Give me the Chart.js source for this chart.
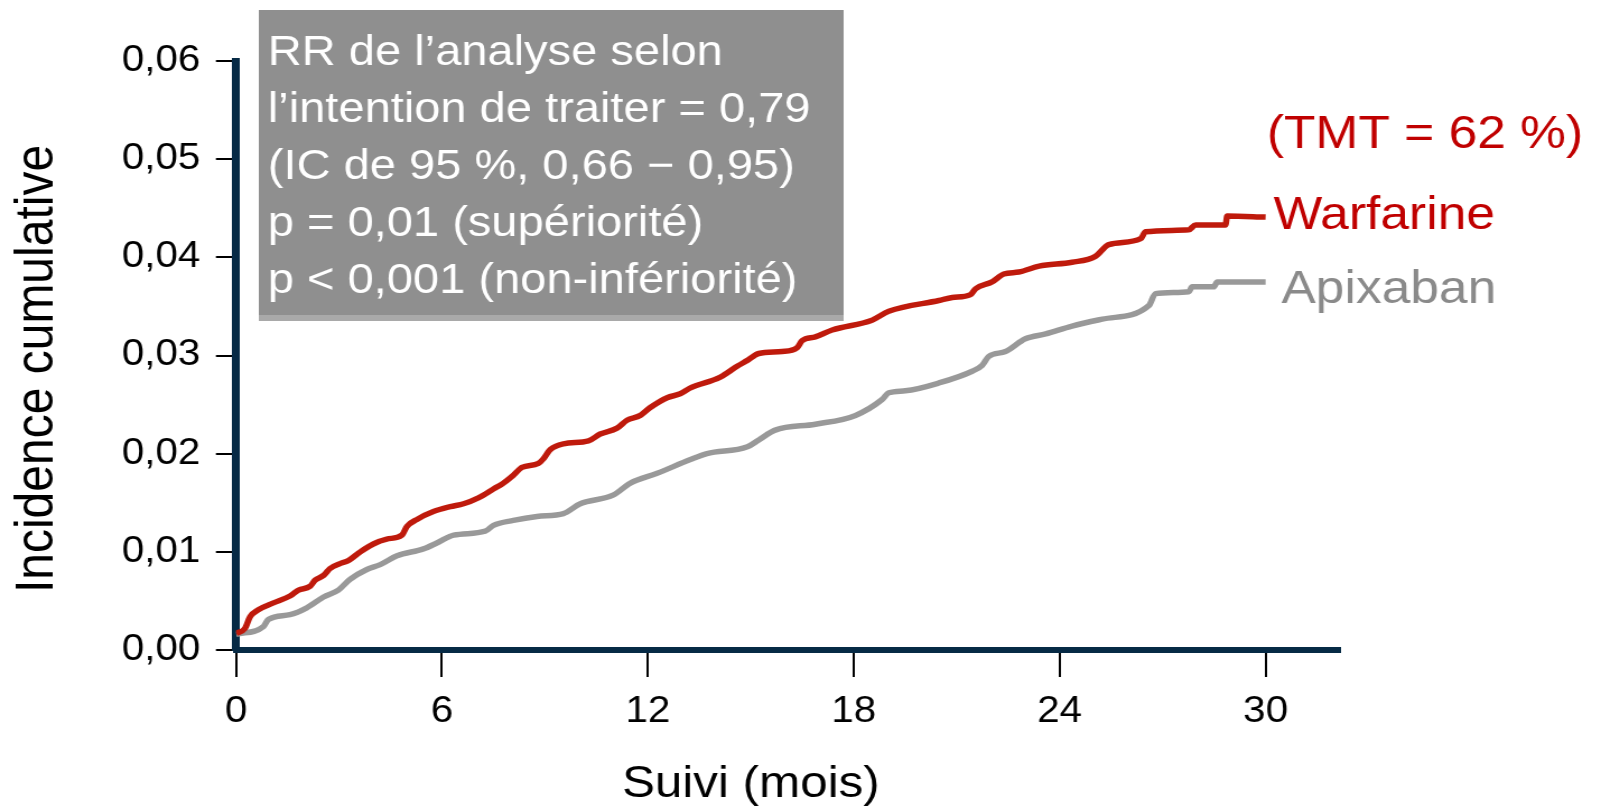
<!DOCTYPE html>
<html lang="fr">
<head>
<meta charset="utf-8">
<script src="https://cdn.jsdelivr.net/npm/chart.js@4/dist/chart.umd.min.js"></script>
<style>
  html, body { margin: 0; padding: 0; background: #fff; overflow: hidden; }
  /* the slide is drawn a bit narrower and widened back to full width */
  #chart { display: block; transform: scaleX(1.12036); transform-origin: 0 0; }
</style>
</head>
<body>
<canvas id="chart" width="1429" height="808"></canvas>
<script>
// Incidence cumulative par mois de suivi
const warfarineMois = [0, 0.26, 0.41, 0.65, 1.09, 1.57, 1.82, 2.16, 2.30, 2.55,
  2.74, 3.03, 3.27, 3.62, 4.0, 4.39, 4.83, 4.98, 5.27, 5.75,
  6.24, 6.63, 7.06, 7.50, 7.79, 8.08, 8.33, 8.81, 8.96, 9.15,
  9.54, 10.27, 10.61, 11.1, 11.39, 11.78, 12.07, 12.56, 12.94, 13.24,
  14.11, 14.6, 14.9, 15.23, 15.91, 16.35, 16.49, 16.88, 17.37, 18.53,
  19.02, 20.48, 20.87, 21.4, 21.55, 22.03, 22.37, 22.81, 23.4, 24.36,
  25.04, 25.43, 26.36, 26.5, 27.76, 27.96, 28.83, 28.88, 30.0];
const warfarineIncidence = [0.0017, 0.0022, 0.0034, 0.0041, 0.0048, 0.0055, 0.0061, 0.0065, 0.0071, 0.0076,
  0.0083, 0.0088, 0.0091, 0.0100, 0.0108, 0.0113, 0.0117, 0.0126, 0.0133, 0.0141,
  0.0146, 0.0149, 0.0155, 0.0164, 0.0170, 0.0178, 0.0186, 0.0190, 0.0195, 0.0204,
  0.0210, 0.0213, 0.0220, 0.0226, 0.0234, 0.0239, 0.0247, 0.0257, 0.0261, 0.0267,
  0.0278, 0.0289, 0.0295, 0.0302, 0.0304, 0.0308, 0.0315, 0.0319, 0.0326, 0.0336,
  0.0345, 0.0356, 0.0359, 0.0362, 0.0368, 0.0375, 0.0383, 0.0385, 0.0391, 0.0395,
  0.0401, 0.0413, 0.0419, 0.0426, 0.0428, 0.0433, 0.0433, 0.0442, 0.0441];

const apixabanMois = [0, 0.80, 0.94, 1.57, 2.06, 2.55, 2.98, 3.32, 3.81, 4.2,
  4.69, 5.46, 5.85, 6.34, 7.26, 7.5, 8.08, 8.77, 9.54, 10.03,
  11.0, 11.49, 12.27, 13.24, 13.72, 14.9, 15.23, 15.71, 16.88, 18.05,
  18.82, 19.02, 19.5, 20.48, 21.45, 21.74, 21.93, 22.42, 23.0, 23.59,
  24.36, 25.24, 26.6, 26.79, 27.76, 27.86, 28.49, 28.59, 30.0];
const apixabanIncidence = [0.0016, 0.0024, 0.0031, 0.0036, 0.0043, 0.0054, 0.0061, 0.0072, 0.0082, 0.0087,
  0.0096, 0.0103, 0.0109, 0.0117, 0.0121, 0.0127, 0.0132, 0.0136, 0.0139, 0.0149,
  0.0158, 0.0170, 0.0180, 0.0194, 0.0200, 0.0207, 0.0214, 0.0224, 0.0230, 0.0239,
  0.0255, 0.0262, 0.0264, 0.0272, 0.0284, 0.0290, 0.0299, 0.0304, 0.0317, 0.0322,
  0.0330, 0.0337, 0.0351, 0.0363, 0.0365, 0.0370, 0.0370, 0.0375, 0.0375];

const xTicks = [0, 6, 12, 18, 24, 30];
const yTicks = [0, 0.01, 0.02, 0.03, 0.04, 0.05, 0.06];

const encadre = [
  'RR de l\u2019analyse selon',
  'l\u2019intention de traiter = 0,79',
  '(IC de 95 %, 0,66 \u2212 0,95)',
  'p = 0,01 (sup\u00e9riorit\u00e9)',
  'p < 0,001 (non-inf\u00e9riorit\u00e9)'
];

const FONT = '"Liberation Sans", Arial, Helvetica, sans-serif';
const NAVY = '#062a45';
const RED_LINE = '#bf1a0c';
const RED_TEXT = '#c00000';
const GREY_LINE = '#999999';
const GREY_TEXT = '#8a8a8a';

const toPoints = (xs, ys) => xs.map((x, i) => ({x: x, y: ys[i]}));

// axis titles, grey box with the statistics, curve names at the line ends
const annotations = {
  id: 'annotations',
  afterDraw(chart) {
    const ctx = chart.ctx;
    const xs = chart.scales.x, ys = chart.scales.y;
    const area = chart.chartArea;
    ctx.save();

    // x title sits under the 0-30 tick span, not the whole axis line
    ctx.fillStyle = '#000';
    ctx.font = '44px ' + FONT;
    ctx.textAlign = 'center';
    ctx.textBaseline = 'middle';
    const x0 = xs.getPixelForValue(xTicks[0]);
    const x1 = xs.getPixelForValue(xTicks[xTicks.length - 1]);
    ctx.fillText('Suivi (mois)', (x0 + x1) / 2, 785);

    ctx.save();
    ctx.translate(34, (area.top + area.bottom) / 2 + 13.5);
    ctx.rotate(-Math.PI / 2);
    ctx.font = '48px ' + FONT;
    ctx.fillText('Incidence cumulative', 0, 0);
    ctx.restore();

    ctx.fillStyle = '#8f8f8f';
    ctx.fillRect(231, 10, 522, 305);
    ctx.fillStyle = '#a9a9a9';
    ctx.fillRect(231, 315, 522, 6);
    ctx.fillStyle = '#ffffff';
    ctx.font = '42px ' + FONT;
    ctx.textBaseline = 'alphabetic';
    ctx.textAlign = 'left';
    encadre.forEach((line, i) => ctx.fillText(line, 239, 65 + i * 57));

    const endX = xs.getPixelForValue(warfarineMois[warfarineMois.length - 1]);
    const redEnd = ys.getPixelForValue(warfarineIncidence[warfarineIncidence.length - 1]);
    const greyEnd = ys.getPixelForValue(apixabanIncidence[apixabanIncidence.length - 1]);
    ctx.font = '46px ' + FONT;
    ctx.fillStyle = RED_TEXT;
    ctx.fillText('(TMT = 62 %)', endX + 1, redEnd - 69);
    ctx.fillText('Warfarine', endX + 7, redEnd + 12);
    ctx.fillStyle = GREY_TEXT;
    ctx.fillText('Apixaban', endX + 14, greyEnd + 21);
    ctx.restore();
  }
};

new Chart(document.getElementById('chart'), {
  type: 'line',
  data: {
    datasets: [{
      label: 'Warfarine',
      data: toPoints(warfarineMois, warfarineIncidence),
      borderColor: RED_LINE,
      borderWidth: 5.5,
      pointRadius: 0,
      cubicInterpolationMode: 'monotone',
      fill: false
    }, {
      label: 'Apixaban',
      data: toPoints(apixabanMois, apixabanIncidence),
      borderColor: GREY_LINE,
      borderWidth: 5.5,
      pointRadius: 0,
      cubicInterpolationMode: 'monotone',
      fill: false
    }]
  },
  options: {
    responsive: false,
    devicePixelRatio: 1,
    animation: false,
    layout: { padding: { top: 61, right: 233.5, left: 0, bottom: 0 } },
    plugins: {
      legend: { display: false },
      tooltip: { enabled: false }
    },
    scales: {
      x: {
        type: 'linear',
        min: 0,
        max: 32.15,
        z: 1,
        afterBuildTicks: axis => { axis.ticks = xTicks.map(v => ({value: v})); },
        afterFit: axis => { axis.height = 158; },
        border: { display: true, color: NAVY, width: 6 },
        grid: { drawOnChartArea: false, color: '#000', lineWidth: 2, tickLength: 27 },
        ticks: {
          color: '#000',
          padding: 13,
          maxRotation: 0,
          font: { family: FONT, size: 36 },
          callback: v => String(v)
        },
        title: { display: false }
      },
      y: {
        type: 'linear',
        min: 0,
        max: 0.06,
        z: 1,
        afterBuildTicks: axis => { axis.ticks = yTicks.map(v => ({value: v})); },
        afterFit: axis => { axis.width = 210.7; },
        border: { display: true, color: NAVY, width: 7 },
        grid: { drawOnChartArea: false, color: '#000', lineWidth: 2, tickLength: 18 },
        ticks: {
          color: '#000',
          padding: 14,
          font: { family: FONT, size: 36 },
          callback: v => v.toFixed(2).replace('.', ',')
        },
        title: { display: false }
      }
    }
  },
  plugins: [annotations]
});
</script>
</body>
</html>
